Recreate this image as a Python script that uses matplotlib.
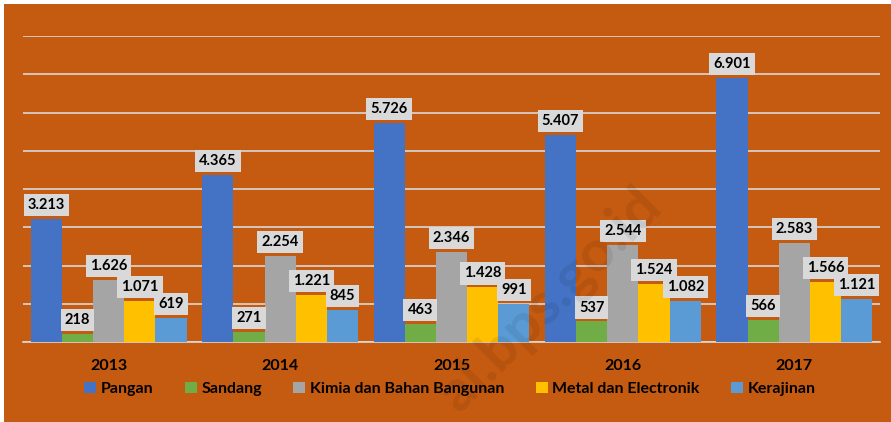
import matplotlib.pyplot as plt
import matplotlib.patches as mpatches
import numpy as np

years = ["2013", "2014", "2015", "2016", "2017"]
pangan = [3213, 4365, 5726, 5407, 6901]
sandang = [218, 271, 463, 537, 566]
kimia = [1626, 2254, 2346, 2544, 2583]
metal = [1071, 1221, 1428, 1524, 1566]
kerajinan = [619, 845, 991, 1082, 1121]

series_names = ["Pangan", "Sandang", "Kimia dan Bahan Bangunan", "Metal dan Electronik", "Kerajinan"]
series_vals = [pangan, sandang, kimia, metal, kerajinan]
colors = ["#4472C4", "#70AD47", "#A5A5A5", "#FFC000", "#5B9BD5"]

bg = "#C55A11"
W, H = 891, 422
fig = plt.figure(figsize=(W / 100, H / 100), dpi=100)
fig.patch.set_facecolor("white")
# orange chart area (thin white strip on top and left)
fig.patches.append(mpatches.Rectangle((4 / W, 0), 1, 1 - 4 / H, transform=fig.transFigure,
                                      facecolor=bg, edgecolor="none", zorder=-10))

ax = fig.add_axes([23 / W, 1 - 342 / H, (880 - 23) / W, (342 - 36) / H])
ax.set_facecolor("none")

x = np.arange(len(years))
bw = 0.182
for i, (name, vals, c) in enumerate(zip(series_names, series_vals, colors)):
    pos = x + (i - 2) * bw
    ax.bar(pos, vals, bw, color=c, label=name, zorder=3)
    for p, v in zip(pos, vals):
        txt = f"{v:,}".replace(",", ".")
        ax.annotate(txt, (p, v), xytext=(0, 5), textcoords="offset points",
                    ha="center", va="bottom", fontsize=10.5, fontweight="bold",
                    family="Lato", color="black", zorder=5,
                    bbox=dict(boxstyle="square,pad=0.28", fc="#D9D9D9", ec="none"))

ax.set_xlim(-0.5, len(years) - 0.5)
ax.set_ylim(0, 8000)
ax.set_yticks(np.arange(0, 8001, 1000))
ax.yaxis.grid(True, color="#D9D9D9", linewidth=1.2, zorder=0)
ax.tick_params(axis="y", left=False, labelleft=False)
ax.tick_params(axis="x", bottom=False, pad=9)
ax.set_xticks(x)
ax.set_xticklabels(years, fontsize=11.5, fontweight="bold", family="Lato")
for s in ["top", "right", "left"]:
    ax.spines[s].set_visible(False)
ax.spines["bottom"].set_color("#D9D9D9")
ax.spines["bottom"].set_linewidth(1.2)

leg = fig.legend(loc="center", bbox_to_anchor=(450 / W, 1 - 389 / H), ncol=5, frameon=False,
                 prop={"family": "Lato", "weight": "bold", "size": 11.5},
                 handlelength=0.75, handleheight=0.75, handletextpad=0.3, columnspacing=1.95)

# faint watermark on top of the bars
fig.text(550 / W, 1 - 300 / H, "al.bps.go.id", rotation=45, fontsize=42, fontweight="bold",
         family="Lato", color="black", alpha=0.08, ha="center", va="center", zorder=10)

fig.savefig("out.png", dpi=100, facecolor=fig.get_facecolor())
